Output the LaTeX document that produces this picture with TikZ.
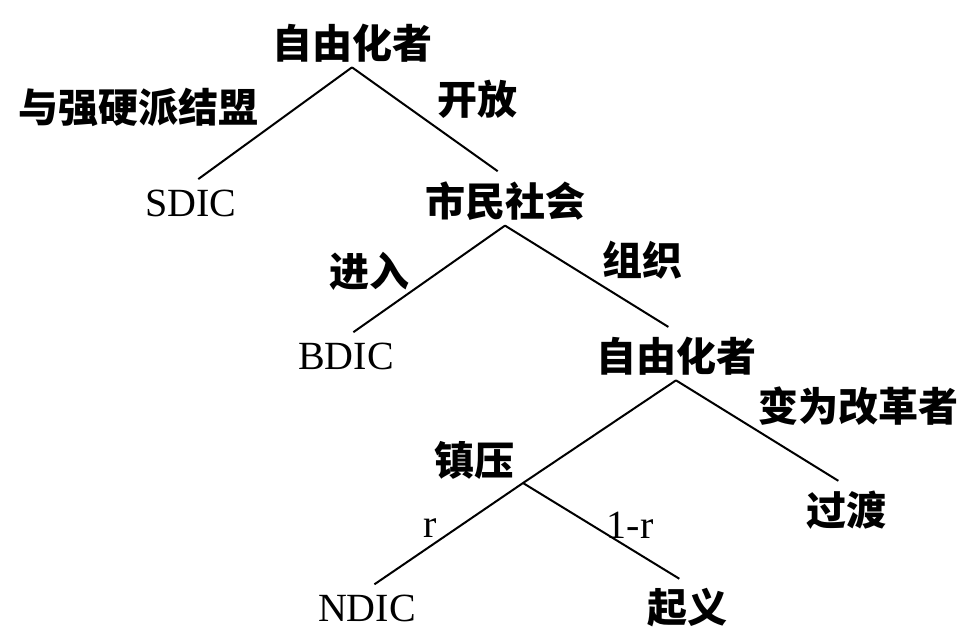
\documentclass[tikz,border=0pt]{standalone}
\usepackage{fontspec}
\setmainfont{Liberation Serif}
\newfontfamily\cjk{Noto Sans CJK SC}
\usetikzlibrary{positioning}

\tikzset{
  zh/.style={inner sep=0pt, inner ysep=5pt, font=\cjk\bfseries\fontsize{40}{40}\selectfont},
  en/.style={inner sep=0pt, inner ysep=5pt, font=\fontsize{40}{40}\selectfont},
  branch/.style={line width=2pt, shorten >=9pt},
}

\begin{document}
\begin{tikzpicture}[x=1pt, y=-1pt]
  \useasboundingbox (0,0) rectangle (965,630);

  % players and outcomes
  \node[zh] (root) at (352,43) {自由化者};
  \node[en] (sdic) at (191,203) {SDIC};
  \node[zh] (civil) at (505,201) {市民社会};
  \node[en] (bdic) at (346,356) {BDIC};
  \node[zh] (lib) at (676,356) {自由化者};
  \node[zh] (trans) at (846,510) {过渡};
  \node[en] (ndic) at (367,608) {NDIC};
  \node[zh] (revolt) at (687,608) {起义};
  \coordinate (fork) at (523,483);

  % moves
  \node[zh] (ally) at (138,107) {与强硬派结盟};
  \node[zh] (open) at (477,99) {开放};
  \node[zh] (enter) at (369,271) {进入};
  \node[zh] (organize) at (642,260) {组织};
  \node[zh] (reform) at (858,406) {变为改革者};
  \node[zh, above left=3pt and 8pt of fork, inner sep=0pt] (repress) {镇压};
  \node[en] (prob) at (430,528) {r};
  \node[en] (rest) at (630,525) {1-r};

  \draw[branch] (root.south) -- (sdic.north);
  \draw[branch] (root.south) -- (civil.north);
  \draw[branch] (civil.south) -- (bdic.north);
  \draw[branch] (civil.south) -- (lib.north);
  \draw[branch] (lib.south) -- (fork) -- (ndic.north);
  \draw[branch] (lib.south) -- (trans.north);
  \draw[branch] (fork) -- (revolt.north);
\end{tikzpicture}
\end{document}
